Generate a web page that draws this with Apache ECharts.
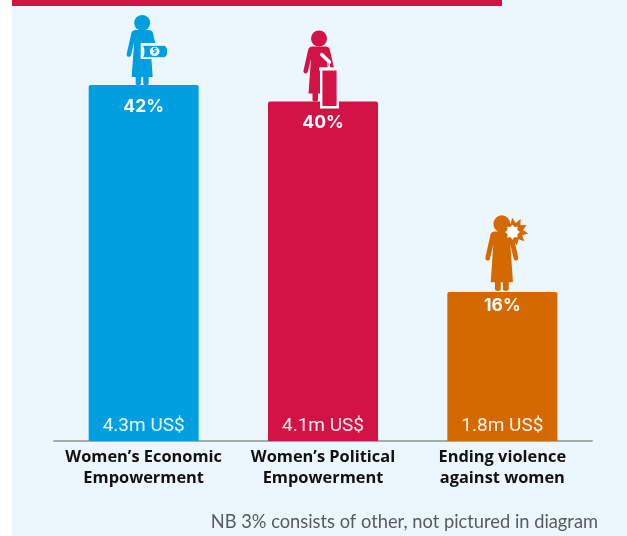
<!DOCTYPE html>
<html>
<head>
<meta charset="utf-8">
<style>
  html, body { margin: 0; padding: 0; background: #ffffff; }
  #chart { width: 627px; height: 536px; }
</style>
<script src="https://cdn.jsdelivr.net/npm/echarts@6/dist/echarts.min.js"></script>
</head>
<body>
<div id="chart"></div>
<script>
// Funding by thematic area, million US$
const categories = ['Women’s Economic\nEmpowerment', 'Women’s Political\nEmpowerment', 'Ending violence\nagainst women'];
const fundingMillions = [4.3, 4.1, 1.8];
const shareLabels = ['42%', '40%', '16%'];
const fundingLabels = ['4.3m US$', '4.1m US$', '1.8m US$'];
const barColors = ['#009fdf', '#d31245', '#d36900'];
const footnote = 'NB 3% consists of other, not pictured in diagram';
const PANEL = '#ebf7fd';

// Standing figure, feet at the origin
const PERSON = 'M-6.5,-55 C-9,-55 -10.5,-54 -11,-51 L-15.5,-31 C-16,-27.5 -11.5,-27 -11,-30.5 L-8,-43 ' +
  'L-10.5,-8 L-6.5,-8 L-6.5,-1.5 C-6.5,0.5 -1,0.5 -1,-1.5 L-1,-8 L1,-8 L1,-1.5 C1,0.5 6.5,0.5 6.5,-1.5 L6.5,-8 ' +
  'L10.5,-8 L8,-43 L11,-30.5 C11.5,-27 16,-27.5 15.5,-31 L11,-51 C10.5,-54 9,-55 6.5,-55 Z';

function person(color, headY) {
  return [
    { type: 'circle', shape: { cx: 0, cy: headY, r: 8 }, style: { fill: color } },
    { type: 'path', shape: { pathData: PERSON, x: -16, y: -55, width: 32, height: 55 }, style: { fill: color } }
  ];
}

// Spiky burst outline around a centre point
function burst(cx, cy, outer, inner, points, startDeg) {
  const out = [];
  for (let i = 0; i < points * 2; i++) {
    const r = i % 2 ? inner : outer;
    const a = (startDeg + i * 180 / points) * Math.PI / 180;
    out.push([cx + r * Math.cos(a), cy + r * Math.sin(a)]);
  }
  return out;
}

const icons = [
  // Figure holding a banknote
  color => ({
    labelOffset: 22, x: -1.5, children: [
      ...person(color, -62),
      { type: 'rect', shape: { x: -1.5, y: -42, width: 27, height: 16 }, style: { fill: '#ffffff' } },
      { type: 'polygon', shape: { points: [[0.8, -39.3], [22.8, -39.3], [24.8, -36.5], [24.8, -30.5], [22.8, -27.7], [0.8, -27.7], [2.2, -31], [2.2, -36]] }, style: { fill: color } },
      { type: 'circle', shape: { cx: 12.5, cy: -33.5, r: 4.8 }, style: { fill: '#ffffff' } },
      { type: 'text', style: { x: 12.5, y: -33.5, text: '$', fill: color, font: '700 8px "Open Sans"', align: 'center', verticalAlign: 'middle' } }
    ]
  }),
  // Figure speaking at a lectern
  color => ({
    labelOffset: 21, x: -4, children: [
      ...person(color, -63),
      { type: 'line', shape: { x1: 2.7, y1: -47, x2: 10.5, y2: -39.5 }, style: { stroke: '#ffffff', lineWidth: 3.5, lineCap: 'round' } },
      { type: 'line', shape: { x1: 10.5, y1: -39.5, x2: 10.5, y2: -33 }, style: { stroke: '#ffffff', lineWidth: 1 } },
      { type: 'rect', shape: { x: 2.2, y: -32.8, width: 16.6, height: 38.6 }, style: { fill: color, stroke: '#ffffff', lineWidth: 2.4 } },
      { type: 'rect', shape: { x: 0, y: -34, width: 22, height: 3 }, style: { fill: '#ffffff' } }
    ]
  }),
  // Figure with an impact burst at the head
  color => ({
    labelOffset: 14, x: -0.5, y: -1, scaleX: 1.06, scaleY: 1.08, children: [
      ...person(color, -62),
      { type: 'polygon', shape: { points: burst(12, -55, 13, 8, 10, -100) }, style: { fill: color } },
      { type: 'polygon', shape: { points: burst(10, -54.5, 7, 5, 8, -90) }, style: { fill: '#ffffff' } }
    ]
  })
];

const chart = echarts.init(document.getElementById('chart'), null, { renderer: 'canvas' });

chart.setOption({
  animation: false,
  backgroundColor: '#ffffff',
  graphic: [
    { type: 'rect', z: -10, shape: { x: 12, y: 0, width: 615, height: 536 }, style: { fill: PANEL } },
    { type: 'rect', z: -9, shape: { x: 12, y: 0, width: 490, height: 6 }, style: { fill: barColors[1] } },
    { type: 'text', right: 29, top: 513, style: { text: footnote, fill: '#555b60', font: '400 18.3px Lato', align: 'right' } }
  ],
  grid: { left: 54, right: 35, top: 27, bottom: 95 },
  xAxis: {
    type: 'category',
    data: categories,
    axisTick: { show: false },
    axisLine: { lineStyle: { color: '#a3abab', width: 2 } },
    axisLabel: {
      interval: 0,
      margin: 6,
      color: '#111111',
      fontFamily: '"Open Sans"',
      fontWeight: 700,
      fontSize: 16.4,
      lineHeight: 21,
      align: 'center'
    }
  },
  yAxis: { type: 'value', min: 0, max: 5, show: false },
  series: [
    {
      type: 'bar',
      data: fundingMillions.map((v, i) => ({ value: v, itemStyle: { color: barColors[i] } })),
      barWidth: 110,
      itemStyle: { borderRadius: [2, 2, 0, 0] },
      label: {
        show: true,
        position: 'insideBottom',
        distance: 5,
        formatter: p => fundingLabels[p.dataIndex],
        color: '#ffffff',
        opacity: 0.92,
        fontFamily: 'Roboto',
        fontWeight: 400,
        fontSize: 19
      }
    },
    {
      type: 'custom',
      data: fundingMillions.map((v, i) => [i, v]),
      encode: { x: 0, y: 1 },
      clip: false,
      z: 5,
      renderItem(params, api) {
        const i = api.value(0);
        const top = api.coord([i, api.value(1)]);
        const icon = icons[i](barColors[i]);
        return {
          type: 'group',
          children: [
            {
              type: 'group',
              x: top[0] + icon.x,
              y: top[1] + (icon.y || 0),
              scaleX: icon.scaleX || 1,
              scaleY: icon.scaleY || 1,
              children: icon.children
            },
            {
              type: 'text',
              style: {
                x: top[0], y: top[1] + icon.labelOffset,
                text: shareLabels[i],
                fill: '#ffffff',
                font: '700 17.5px Inter',
                align: 'center',
                verticalAlign: 'middle'
              }
            }
          ]
        };
      }
    }
  ]
});
</script>
</body>
</html>
